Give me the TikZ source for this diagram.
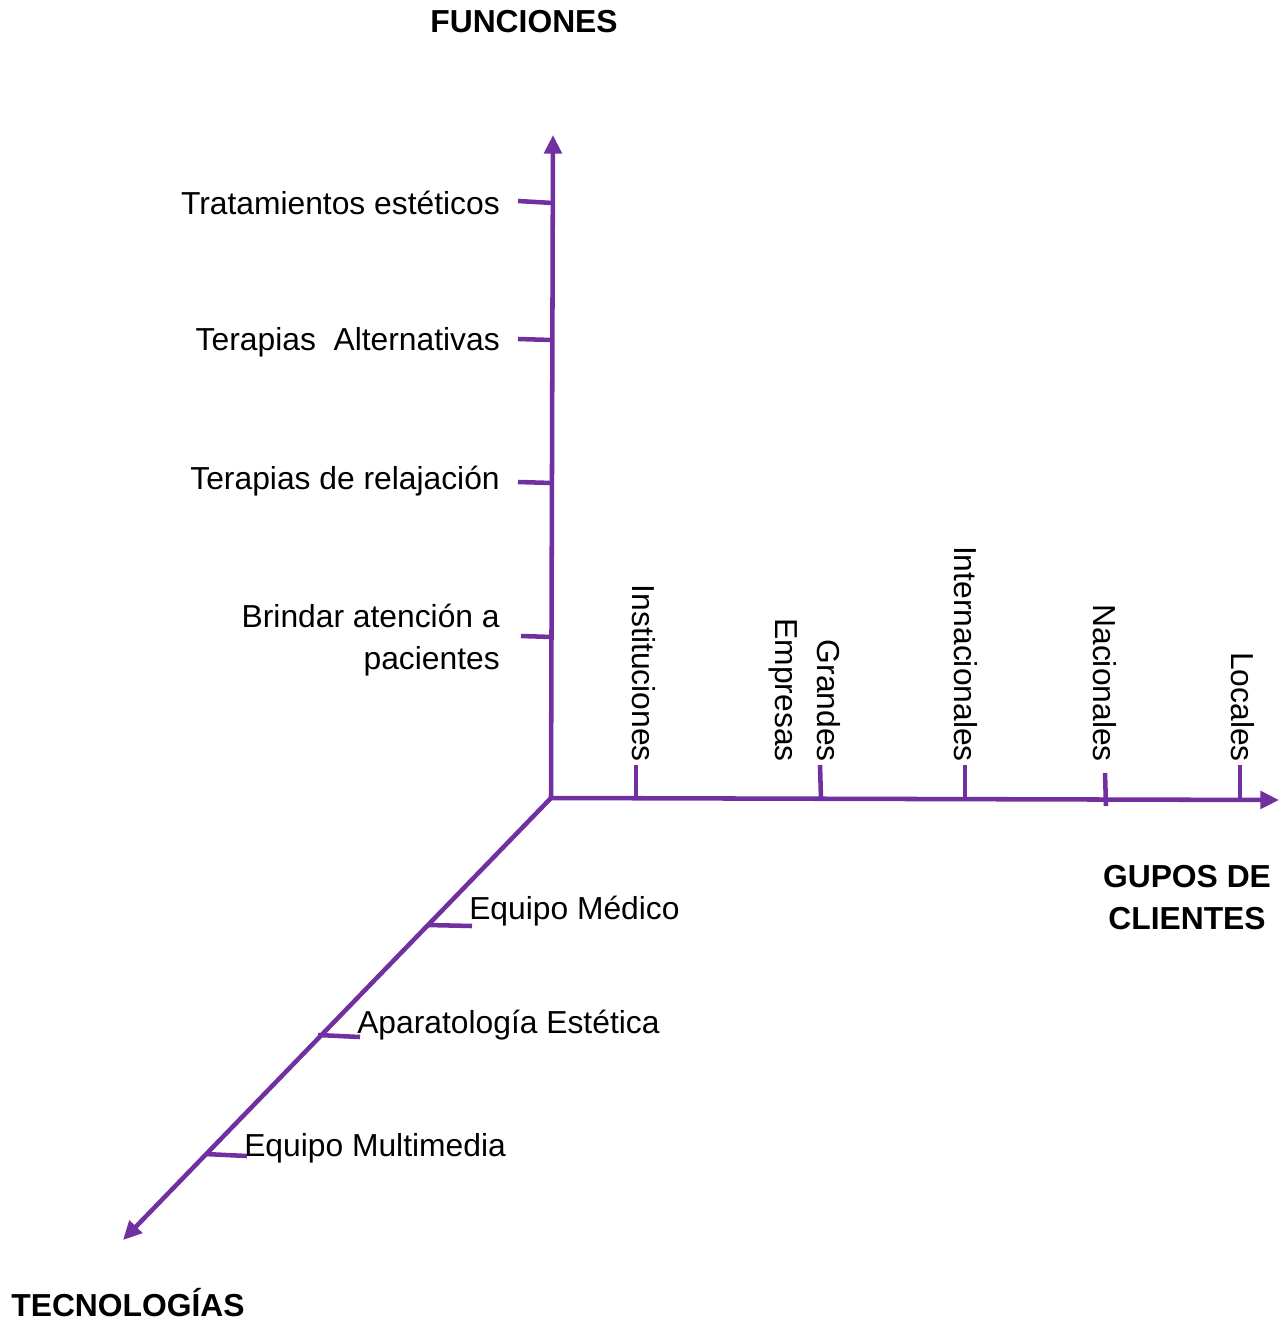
\documentclass[tikz,border=0pt]{standalone}
\usepackage{fontspec}
\setmainfont{Liberation Sans}
\usetikzlibrary{arrows.meta}
\definecolor{axpurple}{HTML}{7030A0}
\begin{document}
\begin{tikzpicture}[x=0.75pt,y=-0.75pt,
  axisline/.style={draw=axpurple, line width=3.4pt, -{Triangle[length=14pt,width=13pt]}},
  tickmark/.style={draw=axpurple, line width=3.4pt},
  lbl/.style={font=\fontsize{23.85}{31.5}\selectfont, inner sep=0pt},
  ttl/.style={font=\fontsize{23.85}{31.5}\selectfont\bfseries, inner sep=0pt, align=center},
  vlbl/.style={lbl, rotate=-90, anchor=east, align=right}]
\useasboundingbox (0,0) rectangle (1284,1324);

% axes
\coordinate (O) at (551,798);
\coordinate (Ftip) at (553,135);
\coordinate (Gtip) at (1279,800);
\coordinate (Ttip) at (123,1240);
\draw[axisline] (O) -- (Ftip);
\draw[axisline] (O) -- (Gtip);
\draw[axisline] (O) -- (Ttip);

% titles
\node[ttl] (funciones) at (524,22) {FUNCIONES};
\node[ttl] (clientes) at (1187,898) {GUPOS DE\\CLIENTES};
\node[ttl] (tecnologias) at (128,1303) {TECNOLOGÍAS};

% vertical axis ticks and labels
\coordinate (f1a) at (518,201); \coordinate (f1b) at (553,203);
\coordinate (f2a) at (518,339); \coordinate (f2b) at (552,340);
\coordinate (f3a) at (518,482); \coordinate (f3b) at (552,483);
\coordinate (f4a) at (521,636); \coordinate (f4b) at (552,637);
\draw[tickmark] (f1a) -- (f1b);
\draw[tickmark] (f2a) -- (f2b);
\draw[tickmark] (f3a) -- (f3b);
\draw[tickmark] (f4a) -- (f4b);
\node[lbl, anchor=east] (fl1) at (500,203) {Tratamientos estéticos};
\node[lbl, anchor=east] (fl2) at (500,342) {Terapias\ \ Alternativas};
\node[lbl, anchor=east] (fl3) at (500,481) {Terapias de relajación};
\node[lbl, anchor=east, align=right] (fl4) at (500,640) {Brindar atención a\\pacientes};

% horizontal axis ticks and labels
\coordinate (g1a) at (636,765); \coordinate (g1b) at (636,799);
\coordinate (g2a) at (820,765); \coordinate (g2b) at (821,799);
\coordinate (g3a) at (965,765); \coordinate (g3b) at (965,799);
\coordinate (g4a) at (1105,773); \coordinate (g4b) at (1106,806);
\coordinate (g5a) at (1240,765); \coordinate (g5b) at (1240,799);
\draw[tickmark] (g1a) -- (g1b);
\draw[tickmark] (g2a) -- (g2b);
\draw[tickmark] (g3a) -- (g3b);
\draw[tickmark] (g4a) -- (g4b);
\draw[tickmark] (g5a) -- (g5b);
\node[vlbl] (gl1) at (644,762) {Instituciones};
\node[vlbl] (gl2) at (805,762) {Grandes\\Empresas};
\node[vlbl] (gl3) at (966,762) {Internacionales};
\node[vlbl] (gl4) at (1105,762) {Nacionales};
\node[vlbl] (gl5) at (1243,762) {Locales};

% diagonal axis ticks and labels
\coordinate (t1a) at (428,925); \coordinate (t1b) at (472,926);
\coordinate (t2a) at (318,1035); \coordinate (t2b) at (360,1037);
\coordinate (t3a) at (205,1154); \coordinate (t3b) at (247,1156);
\draw[tickmark] (t1a) -- (t1b);
\draw[tickmark] (t2a) -- (t2b);
\draw[tickmark] (t3a) -- (t3b);
\node[lbl, anchor=west] (tl1) at (469,911) {Equipo Médico};
\node[lbl, anchor=west] (tl2) at (357,1025) {Aparatología Estética};
\node[lbl, anchor=west] (tl3) at (244,1148) {Equipo Multimedia};
\end{tikzpicture}
\end{document}
